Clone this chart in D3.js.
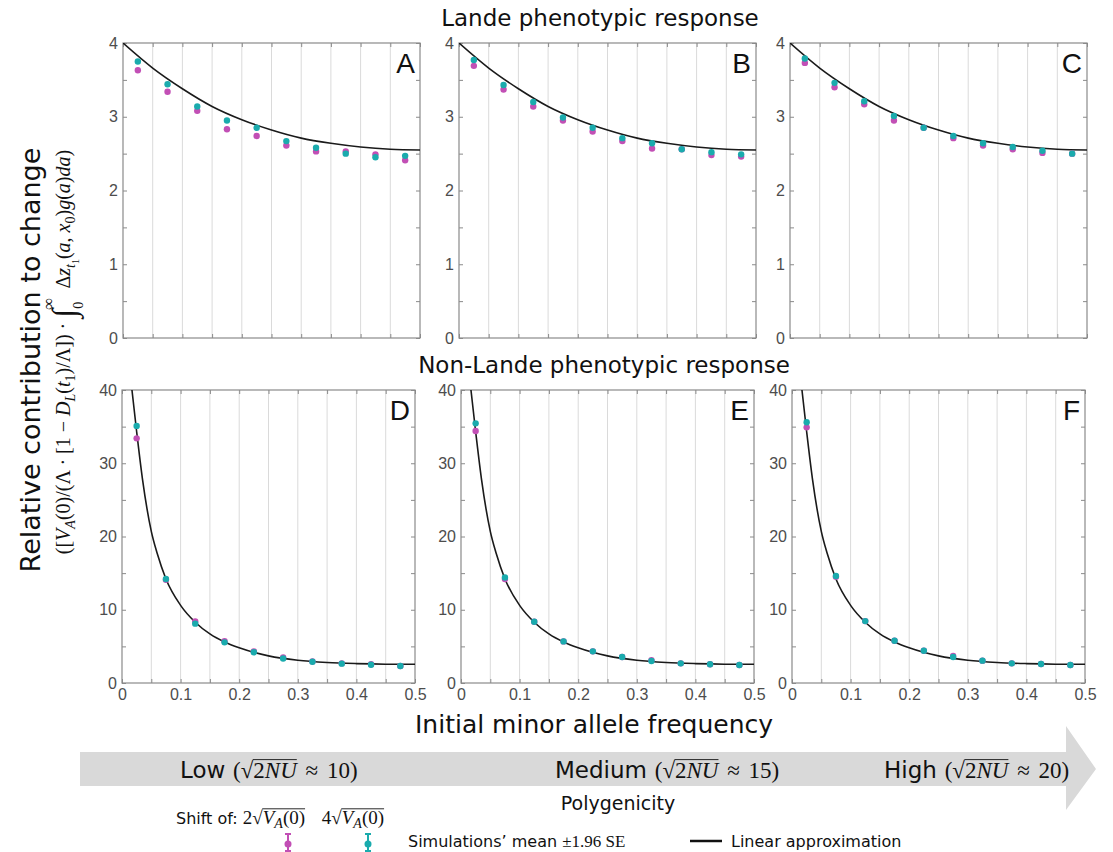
<!DOCTYPE html>
<html>
<head>
<meta charset="utf-8">
<script src="https://cdn.jsdelivr.net/npm/d3@7"></script>
<style>
  body { margin: 0; background: #fff; }
  svg { display: block; }
</style>
</head>
<body>
<div id="chart"></div>
<script>
// simulated mean positions (initial minor allele frequency bins)
const freqs = [0.025, 0.075, 0.125, 0.175, 0.225, 0.275, 0.325, 0.375, 0.425, 0.475];

// Lande response, shift 2*sqrt(VA) (magenta) and 4*sqrt(VA) (teal)
const A_shift2 = [3.63, 3.34, 3.08, 2.83, 2.74, 2.61, 2.53, 2.53, 2.49, 2.41];
const A_shift4 = [3.75, 3.44, 3.14, 2.95, 2.85, 2.67, 2.58, 2.50, 2.45, 2.47];
const B_shift2 = [3.69, 3.37, 3.14, 2.95, 2.80, 2.67, 2.57, 2.56, 2.48, 2.46];
const B_shift4 = [3.77, 3.43, 3.20, 2.99, 2.85, 2.71, 2.64, 2.56, 2.52, 2.49];
const C_shift2 = [3.73, 3.40, 3.17, 2.95, 2.85, 2.71, 2.61, 2.56, 2.51, 2.50];
const C_shift4 = [3.79, 3.46, 3.21, 3.01, 2.85, 2.74, 2.64, 2.59, 2.54, 2.50];

// Non-Lande response
const D_shift2 = [33.4, 14.1, 8.4, 5.7, 4.3, 3.5, 2.95, 2.68, 2.55, 2.32];
const D_shift4 = [35.1, 14.2, 8.1, 5.55, 4.19, 3.35, 2.91, 2.64, 2.50, 2.32];
const E_shift2 = [34.4, 14.2, 8.36, 5.68, 4.32, 3.55, 3.1, 2.68, 2.55, 2.45];
const E_shift4 = [35.45, 14.4, 8.36, 5.68, 4.32, 3.55, 3.0, 2.68, 2.55, 2.45];
const F_shift2 = [34.9, 14.5, 8.45, 5.77, 4.41, 3.7, 3.05, 2.68, 2.59, 2.45];
const F_shift4 = [35.6, 14.6, 8.45, 5.77, 4.41, 3.55, 3.05, 2.68, 2.59, 2.45];

// linear approximation curves
const landeCurveX = [0, 0.05, 0.1, 0.15, 0.2, 0.25, 0.3, 0.35, 0.4, 0.45, 0.5];
const landeCurveY = [4.0, 3.66, 3.38, 3.14, 2.96, 2.82, 2.71, 2.64, 2.59, 2.56, 2.55];
const nonLandeCurveX = [0.017, 0.025, 0.035, 0.05, 0.06, 0.075, 0.1, 0.125, 0.15, 0.175, 0.2, 0.25, 0.3, 0.35, 0.4, 0.45, 0.5];
const nonLandeCurveY = [40, 34.3, 27.8, 20.7, 17.7, 14.2, 10.6, 8.3, 6.7, 5.6, 4.8, 3.7, 3.1, 2.8, 2.65, 2.57, 2.55];

// ticks
const xTicks = [0, 0.05, 0.1, 0.15, 0.2, 0.25, 0.3, 0.35, 0.4, 0.45, 0.5];
const xLabels = [0, 0.1, 0.2, 0.3, 0.4, 0.5];
const landeYTicks = [0, 0.5, 1, 1.5, 2, 2.5, 3, 3.5, 4];
const landeYLabels = [0, 1, 2, 3, 4];
const nonLandeYTicks = [0, 5, 10, 15, 20, 25, 30, 35, 40];
const nonLandeYLabels = [0, 10, 20, 30, 40];

const magenta = "#c24fb5", teal = "#1aabad";
const tickColor = "#8a8a8a", labelColor = "#4d4d4d";

const svg = d3.select("#chart").append("svg")
    .attr("width", 1113)
    .attr("height", 852);

const panels = [
  {letter: "A", left: 123, top: 43, w: 297, h: 295, s2: A_shift2, s4: A_shift4, lande: true},
  {letter: "B", left: 459, top: 43, w: 297, h: 295, s2: B_shift2, s4: B_shift4, lande: true},
  {letter: "C", left: 790, top: 43, w: 297, h: 295, s2: C_shift2, s4: C_shift4, lande: true},
  {letter: "D", left: 122, top: 390, w: 293, h: 293, s2: D_shift2, s4: D_shift4, lande: false},
  {letter: "E", left: 461, top: 390, w: 293, h: 293, s2: E_shift2, s4: E_shift4, lande: false},
  {letter: "F", left: 792, top: 390, w: 293, h: 293, s2: F_shift2, s4: F_shift4, lande: false}
];

function hasLabel(list, d) {
  return list.some(v => Math.abs(v - d) < 1e-9);
}

function styleAxis(g) {
  g.select(".domain").remove();
  g.selectAll(".tick line").attr("stroke", tickColor);
  g.selectAll(".tick text")
    .attr("fill", labelColor)
    .style("font-family", "'Liberation Sans', Arial, sans-serif")
    .style("font-size", "16px");
}

panels.forEach(function(p, idx) {
  const g = svg.append("g").attr("transform", "translate(" + p.left + "," + p.top + ")");

  const x = d3.scaleLinear().domain([0, 0.5]).range([0, p.w]);
  const y = d3.scaleLinear()
      .domain(p.lande ? [0, 4] : [0, 40])
      .range([p.h, 0]);
  const yTicks = p.lande ? landeYTicks : nonLandeYTicks;
  const yLabels = p.lande ? landeYLabels : nonLandeYLabels;

  g.append("clipPath").attr("id", "clip" + idx)
    .append("rect").attr("width", p.w).attr("height", p.h);

  // vertical grid
  g.selectAll("line.grid")
    .data(xTicks.slice(1, -1))
    .enter().append("line")
    .attr("class", "grid")
    .attr("x1", d => x(d)).attr("x2", d => x(d))
    .attr("y1", 0).attr("y2", p.h)
    .attr("stroke", "#dadada")
    .attr("stroke-width", 1);

  // axes, ticks pointing inward like matlab
  g.append("g")
    .call(d3.axisLeft(y).tickValues(yTicks).tickSizeInner(-4).tickSizeOuter(0).tickPadding(5)
      .tickFormat(d => hasLabel(yLabels, d) ? d : ""))
    .call(styleAxis);
  g.append("g")
    .attr("transform", "translate(" + p.w + ",0)")
    .call(d3.axisRight(y).tickValues(yTicks).tickSizeInner(-4).tickSizeOuter(0).tickFormat(""))
    .call(styleAxis);
  g.append("g")
    .attr("transform", "translate(0," + p.h + ")")
    .call(d3.axisBottom(x).tickValues(xTicks).tickSizeInner(-4).tickSizeOuter(0).tickPadding(6)
      .tickFormat(d => (!p.lande && hasLabel(xLabels, d)) ? String(+d.toFixed(2)) : ""))
    .call(styleAxis);
  g.append("g")
    .call(d3.axisTop(x).tickValues(xTicks).tickSizeInner(-4).tickSizeOuter(0).tickFormat(""))
    .call(styleAxis);

  g.append("rect")
    .attr("width", p.w).attr("height", p.h)
    .attr("fill", "none")
    .attr("stroke", tickColor)
    .attr("stroke-width", 1.2);

  // approximation curve
  const cx = p.lande ? landeCurveX : nonLandeCurveX;
  const cy = p.lande ? landeCurveY : nonLandeCurveY;
  const line = d3.line()
      .x(d => x(d[0]))
      .y(d => y(d[1]))
      .curve(d3.curveMonotoneX);
  g.append("path")
    .datum(d3.zip(cx, cy))
    .attr("clip-path", "url(#clip" + idx + ")")
    .attr("fill", "none")
    .attr("stroke", "#1a1a1a")
    .attr("stroke-width", 1.6)
    .attr("d", line);

  // simulation points
  g.selectAll("circle.s2")
    .data(d3.zip(freqs, p.s2))
    .enter().append("circle")
    .attr("class", "s2")
    .attr("cx", d => x(d[0]))
    .attr("cy", d => y(d[1]))
    .attr("r", 3.2)
    .attr("fill", magenta);
  g.selectAll("circle.s4")
    .data(d3.zip(freqs, p.s4))
    .enter().append("circle")
    .attr("class", "s4")
    .attr("cx", d => x(d[0]))
    .attr("cy", d => y(d[1]))
    .attr("r", 3.2)
    .attr("fill", teal);

  g.append("text")
    .attr("x", p.w - 5)
    .attr("y", 30)
    .attr("text-anchor", "end")
    .style("font-family", "'Liberation Sans', Arial, sans-serif")
    .style("font-size", "28px")
    .attr("fill", "#111")
    .text(p.letter);
});

// rich text helper: parts with italics, sub/superscript offsets
function rich(sel, parts) {
  let off = 0;
  parts.forEach(function(p) {
    const o = p.o || 0;
    const ts = sel.append("tspan").text(p.t);
    if (o !== off) ts.attr("dy", (o - off) + "px");
    if (p.dx) ts.attr("dx", p.dx + "px");
    off = o;
    if (p.i) ts.attr("font-style", "italic");
    if (p.s) ts.attr("font-size", p.s + "px");
  });
  return sel;
}

// draw the bar of each square root over the text that follows it (up to a space)
function radicalBars(textSel, baseline, size) {
  const node = textSel.node();
  const s = node.textContent;
  const n = node.getNumberOfChars();
  for (let k = s.indexOf("√"); k >= 0; k = s.indexOf("√", k + 1)) {
    let j = s.indexOf(" ", k + 1);
    if (j < 0) j = s.length;
    if (j - 1 >= n) continue;
    const r = node.getExtentOfChar(k);
    const e = node.getExtentOfChar(j - 1);
    svg.append("line")
      .attr("x1", r.x + r.width - 0.5).attr("x2", e.x + e.width)
      .attr("y1", baseline - 0.8 * size).attr("y2", baseline - 0.8 * size)
      .attr("stroke", "#111").attr("stroke-width", 0.9);
  }
}

const sans = "'DejaVu Sans', Verdana, sans-serif";
const serif = "'Liberation Serif', 'DejaVu Serif', serif";

svg.append("text")
  .attr("x", 600).attr("y", 26)
  .attr("text-anchor", "middle")
  .style("font-family", sans).style("font-size", "23px")
  .attr("fill", "#111")
  .text("Lande phenotypic response");

svg.append("text")
  .attr("x", 604).attr("y", 373)
  .attr("text-anchor", "middle")
  .style("font-family", sans).style("font-size", "23px")
  .attr("fill", "#111")
  .text("Non-Lande phenotypic response");

svg.append("text")
  .attr("x", 594).attr("y", 733)
  .attr("text-anchor", "middle")
  .style("font-family", sans).style("font-size", "25px")
  .attr("fill", "#111")
  .text("Initial minor allele frequency");

// y axis titles
svg.append("text")
  .attr("transform", "translate(40,360) rotate(-90)")
  .attr("text-anchor", "middle")
  .style("font-family", sans).style("font-size", "27px")
  .attr("fill", "#111")
  .text("Relative contribution to change");

const ymath = svg.append("text")
  .attr("transform", "translate(70,352) rotate(-90)")
  .attr("text-anchor", "middle")
  .style("font-family", serif).style("font-size", "20px")
  .attr("fill", "#111");
rich(ymath, [
  {t: "(["}, {t: "V", i: true}, {t: "A", i: true, o: 5, s: 14}, {t: "(0)/(Λ · [1 − "},
  {t: "D", i: true}, {t: "L", i: true, o: 5, s: 14}, {t: "("}, {t: "t", i: true}, {t: "1", o: 5, s: 14},
  {t: ")/Λ]) · "}, {t: "∫", s: 33, o: 5}, {t: "0", o: 13, s: 14}, {t: "∞", o: -16, s: 17, dx: -8},
  {t: " Δ", dx: 4}, {t: "z", i: true}, {t: "t", i: true, o: 5, s: 14}, {t: "1", o: 9, s: 10},
  {t: "("}, {t: "a", i: true}, {t: ", "}, {t: "x", i: true}, {t: "0", o: 5, s: 14}, {t: ")"},
  {t: "g", i: true}, {t: "("}, {t: "a", i: true}, {t: ")"}, {t: "da", i: true}, {t: ")"}
]);

// polygenicity arrow
svg.append("path")
  .attr("d", "M80,752 L1066,752 L1066,726 L1096,769 L1066,810 L1066,786 L80,786 Z")
  .attr("fill", "#d9d9d9");

function bandLabel(x, word, num) {
  const t = svg.append("text")
    .attr("x", x).attr("y", 778)
    .attr("fill", "#111");
  t.append("tspan").style("font-family", sans).style("font-size", "23px").text(word);
  const m = t.append("tspan").style("font-family", serif).style("font-size", "23px");
  rich(m, [{t: " (√", dx: 2}, {t: "2"}, {t: "NU", i: true}, {t: " ≈", dx: 3}, {t: " " + num + ")", dx: 3}]);
  radicalBars(t, 778, 23);
}
bandLabel(180, "Low", 10);
bandLabel(555, "Medium", 15);
bandLabel(884, "High", 20);

svg.append("text")
  .attr("x", 618).attr("y", 810)
  .attr("text-anchor", "middle")
  .style("font-family", sans).style("font-size", "19px")
  .attr("fill", "#111")
  .text("Polygenicity");

// legend
const leg = svg.append("text")
  .attr("x", 176).attr("y", 824)
  .attr("fill", "#111");
leg.append("tspan").style("font-family", sans).style("font-size", "16px").text("Shift of: ");
const lm = leg.append("tspan").style("font-family", serif).style("font-size", "19px");
rich(lm, [
  {t: "2√"}, {t: "V", i: true}, {t: "A", i: true, o: 4, s: 14}, {t: "(0)", o: 0},
  {t: " 4√", dx: 12}, {t: "V", i: true}, {t: "A", i: true, o: 4, s: 14}, {t: "(0)", o: 0}
]);
radicalBars(leg, 824, 19);

[[288, magenta], [368, teal]].forEach(function(e) {
  const g = svg.append("g").attr("transform", "translate(" + e[0] + ",0)");
  g.append("line").attr("x1", 0).attr("x2", 0).attr("y1", 834).attr("y2", 851)
    .attr("stroke", e[1]).attr("stroke-width", 2);
  g.append("line").attr("x1", -3).attr("x2", 3).attr("y1", 834).attr("y2", 834)
    .attr("stroke", e[1]).attr("stroke-width", 2);
  g.append("line").attr("x1", -3).attr("x2", 3).attr("y1", 851).attr("y2", 851)
    .attr("stroke", e[1]).attr("stroke-width", 2);
  g.append("circle").attr("cx", 0).attr("cy", 844).attr("r", 3.5).attr("fill", e[1]);
});

const sim = svg.append("text")
  .attr("x", 408).attr("y", 847)
  .attr("fill", "#111");
sim.append("tspan").style("font-family", sans).style("font-size", "16px").text("Simulations\u2019 mean ");
sim.append("tspan").style("font-family", serif).style("font-size", "17px").text("±1.96 SE");

svg.append("line")
  .attr("x1", 690).attr("x2", 722).attr("y1", 841).attr("y2", 841)
  .attr("stroke", "#111").attr("stroke-width", 2.5);
svg.append("text")
  .attr("x", 731).attr("y", 847)
  .style("font-family", sans).style("font-size", "16px")
  .attr("fill", "#111")
  .text("Linear approximation");
</script>
</body>
</html>
